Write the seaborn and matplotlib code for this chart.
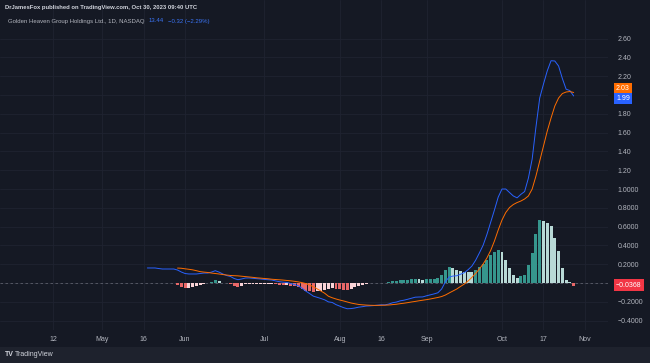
import numpy as np
import pandas as pd
import matplotlib
matplotlib.use("Agg")
import matplotlib.pyplot as plt
import seaborn as sns
from matplotlib.patches import Rectangle
from matplotlib.transforms import blended_transform_factory

# trading calendar (NASDAQ sessions)
holidays = ["2023-04-07", "2023-05-29", "2023-06-19", "2023-07-04", "2023-09-04"]
days = pd.bdate_range("2023-04-03", "2023-11-10")
days = days[~days.isin(pd.to_datetime(holidays))]

macd_start = "2023-05-17"
signal_start = "2023-05-30"

# MACD line (blue)
macd = [0.160, 0.160, 0.160, 0.154, 0.149, 0.149, 0.149, 0.149,
        0.138, 0.117, 0.101, 0.096, 0.096, 0.096, 0.101, 0.106, 0.106, 0.116,
        0.131, 0.116, 0.096, 0.080, 0.070, 0.048, 0.035, 0.043, 0.053, 0.054,
        0.050, 0.046, 0.043, 0.038, 0.035, 0.032, 0.022, 0.014, 0.009, 0.006,
        -0.006, -0.017, -0.029, -0.055, -0.086, -0.112, -0.140, -0.152, -0.165, -0.179,
        -0.201, -0.207, -0.230, -0.246, -0.262, -0.274, -0.272, -0.266, -0.257, -0.252,
        -0.245, -0.243, -0.240, -0.236, -0.232, -0.233, -0.224, -0.210, -0.203, -0.190,
        -0.183, -0.173, -0.162, -0.151, -0.149, -0.148, -0.136, -0.126, -0.116, -0.104,
        -0.064, 0.013, 0.064, 0.074, 0.077, 0.093, 0.110, 0.141, 0.179, 0.241,
        0.319, 0.402, 0.516, 0.646, 0.777, 0.914, 1.000, 1.000, 0.963, 0.926,
        0.906, 0.943, 0.973, 1.116, 1.319, 1.659, 1.968, 2.117, 2.257, 2.365,
        2.362, 2.309, 2.176, 2.062, 2.047, 1.990]

# signal line (orange)
signal = [0.159, 0.157, 0.151, 0.146, 0.140, 0.131, 0.121, 0.116, 0.112, 0.106,
          0.101, 0.096, 0.090, 0.085, 0.080, 0.078, 0.076, 0.072, 0.068, 0.064,
          0.060, 0.055, 0.052, 0.048, 0.045, 0.040, 0.037, 0.034, 0.031, 0.027,
          0.023, 0.018, 0.012, 0.004, -0.006, -0.021, -0.040, -0.062, -0.085, -0.109,
          -0.141, -0.157, -0.170, -0.181, -0.191, -0.202, -0.213, -0.221, -0.228, -0.232,
          -0.235, -0.237, -0.238, -0.238, -0.237, -0.236, -0.234, -0.230, -0.226, -0.220,
          -0.215, -0.209, -0.202, -0.196, -0.189, -0.183, -0.177, -0.170, -0.162, -0.154,
          -0.144, -0.128, -0.106, -0.085, -0.064, -0.037, -0.011, 0.021, 0.059, 0.101,
          0.149, 0.202, 0.266, 0.346, 0.447, 0.564, 0.670, 0.750, 0.803, 0.835,
          0.856, 0.872, 0.894, 0.926, 1.000, 1.138, 1.298, 1.457, 1.617, 1.755,
          1.883, 1.968, 2.016, 2.032, 2.037, 2.027]

# histogram
hist = [-0.020, -0.040, -0.050, -0.050, -0.045, -0.035, -0.020, -0.010, -0.005, 0.010,
        0.030, 0.020, 0.005, -0.005, -0.010, -0.030, -0.040, -0.030, -0.015, -0.010,
        -0.010, -0.010, -0.010, -0.010, -0.010, -0.008, -0.015, -0.020, -0.022, -0.020,
        -0.030, -0.035, -0.040, -0.060, -0.080, -0.090, -0.100, -0.090, -0.080, -0.070,
        -0.060, -0.050, -0.060, -0.065, -0.070, -0.072, -0.060, -0.045, -0.030, -0.020,
        -0.010, -0.005, -0.002, 0.002, 0.005, 0.003, 0.010, 0.020, 0.022, 0.030,
        0.032, 0.035, 0.040, 0.045, 0.040, 0.035, 0.040, 0.045, 0.046, 0.050,
        0.080, 0.140, 0.170, 0.160, 0.140, 0.130, 0.120, 0.120, 0.120, 0.140,
        0.170, 0.200, 0.250, 0.300, 0.330, 0.350, 0.330, 0.250, 0.160, 0.090,
        0.050, 0.070, 0.080, 0.190, 0.320, 0.520, 0.670, 0.660, 0.640, 0.610,
        0.480, 0.340, 0.160, 0.030, 0.010, -0.0368]

tick_dates = ["2023-04-12", "2023-05-01", "2023-05-16", "2023-06-01", "2023-07-03",
              "2023-08-01", "2023-08-16", "2023-09-01", "2023-10-02", "2023-10-17",
              "2023-11-01"]
tick_labels = ["12", "May", "16", "Jun", "Jul", "Aug", "16", "Sep", "Oct", "17", "Nov"]

y_ticks = [-0.4, -0.2, 0.0, 0.2, 0.4, 0.6, 0.8, 1.0, 1.2, 1.4, 1.6, 1.8, 2.0, 2.2, 2.4, 2.6]
y_labels = ["\u22120.4000", "\u22120.2000", "", "0.2000", "0.4000", "0.6000", "0.8000",
            "1.0000", "1.20", "1.40", "1.60", "1.80", "", "2.20", "2.40", "2.60"]

BG = "#151924"
TXT = "#B2B5BE"
BLUE = "#2962FF"
ORANGE = "#FF6D00"

pos = {d: i for i, d in enumerate(days)}
m0 = pos[pd.Timestamp(macd_start)]
s0 = pos[pd.Timestamp(signal_start)]
macd_x = np.arange(m0, m0 + len(macd))
sig_x = np.arange(s0, s0 + len(signal))

# TradingView histogram colouring (rising / falling above / below zero)
colors = []
prev = 0.0
for h in hist:
    if h >= 0:
        colors.append("#26A69A" if h > prev else "#B2DFDB")
    else:
        colors.append("#FF5252" if h < prev else "#FFCDD2")
    prev = h

df = pd.DataFrame({"x": sig_x, "hist": hist, "col": colors})

sns.set_theme(style="dark")
plt.rcParams["font.family"] = ["Liberation Sans", "DejaVu Sans"]

fig = plt.figure(figsize=(6.5, 3.63), dpi=100, facecolor=BG)
ax = fig.add_axes([0, 33 / 363, 608 / 650, 330 / 363])
ax.set_facecolor(BG)

ax.axhline(0, color="#787B86", lw=0.6, ls=(0, (3, 3)), alpha=0.7, zorder=1)
sns.barplot(data=df, x="x", y="hist", hue="col", palette={c: c for c in set(colors)},
            native_scale=True, dodge=False, width=0.78, errorbar=None, legend=False,
            linewidth=0, ax=ax, zorder=2)
sns.lineplot(x=macd_x, y=macd, color=BLUE, lw=0.7, ax=ax, zorder=3)
sns.lineplot(x=sig_x, y=signal, color=ORANGE, lw=0.7, ax=ax, zorder=3)

ax.set_xlim(-8.06, 153.1)
ax.set_ylim(-0.5, 3.011)
ax.set_xticks([pos[pd.Timestamp(d)] for d in tick_dates], tick_labels)
ax.set_yticks(y_ticks, y_labels)
ax.yaxis.tick_right()
ax.tick_params(axis="x", length=0, pad=4, labelsize=5, colors=TXT)
ax.tick_params(axis="y", length=0, pad=7, labelsize=5, colors=TXT)
ax.grid(True, color="#1F2331", lw=0.6)
ax.set_xlabel("")
ax.set_ylabel("")
for s in ax.spines.values():
    s.set_visible(False)

# last-value tags on the price scale
tr = blended_transform_factory(ax.transAxes, ax.transData)
tags = [(2.065, "2.03", ORANGE), (1.965, "1.99", BLUE), (-0.022, "\u22120.0368", "#F23645")]
for yv, txt, c in tags:
    ax.text(616 / 608, yv, txt, transform=tr, ha="left", va="center", fontsize=5,
            color="white", clip_on=False,
            bbox=dict(boxstyle="square,pad=0.3", fc=c, ec="none"))

# header and footer
fig.text(5 / 650, 1 - 8 / 363, "DrJamesFox published on TradingView.com, Oct 30, 2023 09:40 UTC",
         fontsize=4.2, color="#D1D4DC", weight="bold", va="center")
legend_txt = fig.text(8 / 650, 1 - 21 / 363, "Golden Heaven Group Holdings Ltd., 1D, NASDAQ",
                      fontsize=4.3, color=TXT, va="center")
fig.canvas.draw()
bb = legend_txt.get_window_extent(fig.canvas.get_renderer())
x1 = bb.x1 / fig.bbox.width
price_txt = fig.text(x1 + 4 / 650, 1 - 21 / 363, "13.44", fontsize=4.3, color="#3B74F5", va="center")
bb2 = price_txt.get_window_extent(fig.canvas.get_renderer())
fig.text(bb2.x1 / fig.bbox.width + 4 / 650, 1 - 21 / 363, "\u22120.32 (\u22122.29%)",
         fontsize=4.3, color="#3B74F5", va="center")

fig.patches.append(Rectangle((0, 0), 1, 16 / 363, transform=fig.transFigure,
                             fc="#1E222D", ec="none", zorder=-1))
fig.text(5 / 650, 8 / 363, "TV", fontsize=5, color="#D1D4DC", weight="bold", va="center")
fig.text(15 / 650, 8 / 363, "TradingView", fontsize=5, color="#D1D4DC", va="center")

fig.savefig("out.png", dpi=100, facecolor=BG)
